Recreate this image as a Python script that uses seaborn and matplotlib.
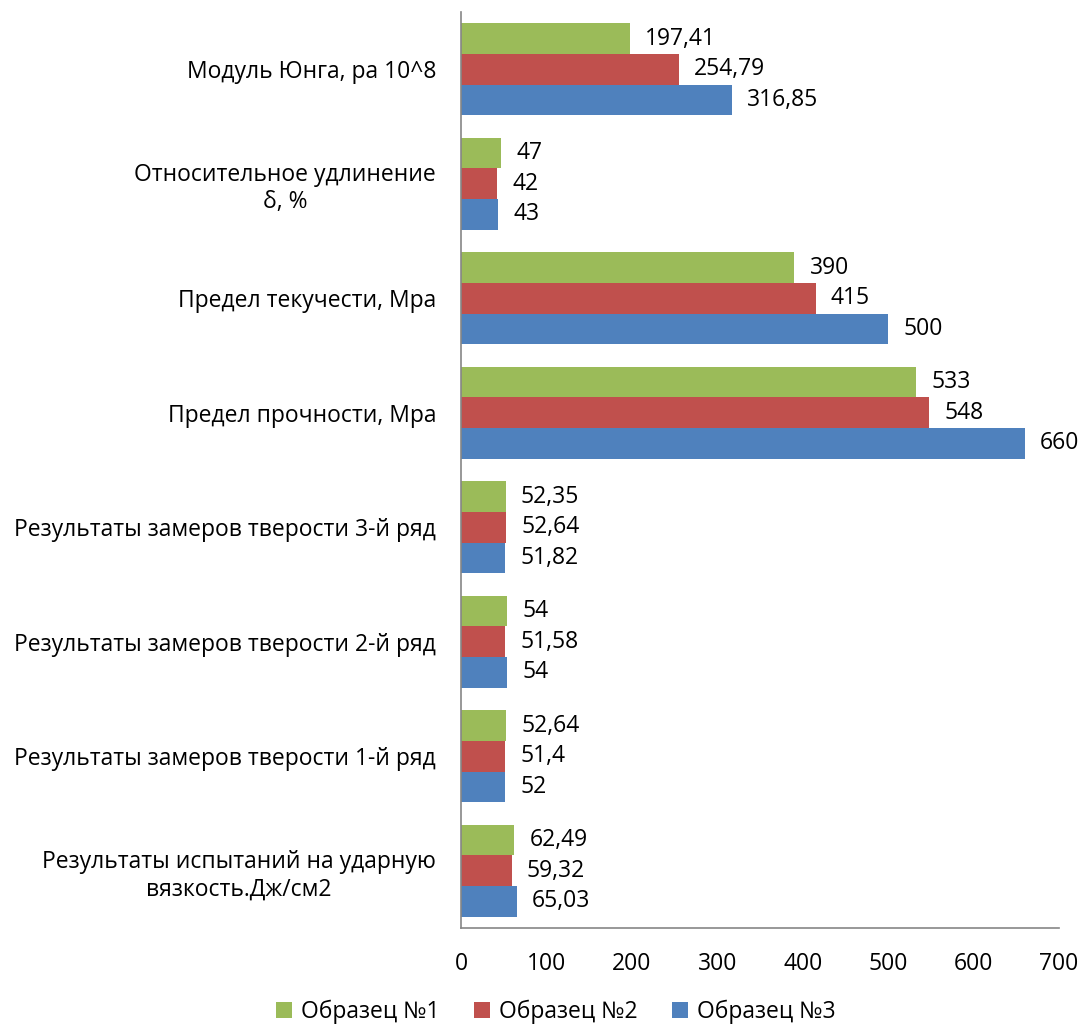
import matplotlib
matplotlib.use("Agg")
import matplotlib.pyplot as plt
import seaborn as sns
import pandas as pd
from matplotlib.patches import Patch

categories = [
    "Модуль Юнга, ра 10^8",
    "Относительное удлинение\nδ, %",
    "Предел текучести, Мра",
    "Предел прочности, Мра",
    "Результаты замеров тверости 3-й ряд",
    "Результаты замеров тверости 2-й ряд",
    "Результаты замеров тверости 1-й ряд",
    "Результаты испытаний на ударную\nвязкость.Дж/см2",
]
series_names = ["Образец №1", "Образец №2", "Образец №3"]
sample1 = [197.41, 47, 390, 533, 52.35, 54, 52.64, 62.49]
sample2 = [254.79, 42, 415, 548, 52.64, 51.58, 51.4, 59.32]
sample3 = [316.85, 43, 500, 660, 51.82, 54, 52, 65.03]
colors = ["#9BBB59", "#C0504D", "#4F81BD"]
x_ticks = [0, 100, 200, 300, 400, 500, 600, 700]

rows = []
for name, vals in zip(series_names, [sample1, sample2, sample3]):
    for c, v in zip(categories, vals):
        rows.append({"cat": c, "val": v, "series": name})
df = pd.DataFrame(rows)

sns.set_theme(style="white")
plt.rcParams["font.family"] = ["Open Sans", "DejaVu Sans"]
plt.rcParams["text.color"] = "black"
plt.rcParams["xtick.color"] = "black"
plt.rcParams["ytick.color"] = "black"
FS = 16.5

fig = plt.figure(figsize=(10.82, 10.29), dpi=100)
ax = fig.add_axes([461 / 1082, 1 - 928 / 1029, (1059 - 461) / 1082, (928 - 12) / 1029])

sns.barplot(data=df, x="val", y="cat", hue="series", order=categories,
            hue_order=series_names, palette=colors, orient="h", width=0.8,
            saturation=1, ax=ax, legend=False, errorbar=None, linewidth=0)

for cont, vals in zip(ax.containers, [sample1, sample2, sample3]):
    labels = [f"{v:g}".replace(".", ",") for v in vals]
    ax.bar_label(cont, labels=labels, padding=11, fontsize=FS, color="black")

ax.set_xlim(0, 700)
ax.set_xticks(x_ticks)
ax.set_xticklabels([str(t) for t in x_ticks], fontsize=FS)
ax.set_xlabel("")
ax.set_ylabel("")
ax.tick_params(axis="x", length=0, pad=17, colors="black")
ax.tick_params(axis="y", length=0, pad=18, labelsize=FS, colors="black")
for lbl in ax.get_yticklabels():
    lbl.set_multialignment("center")

for s in ["top", "right"]:
    ax.spines[s].set_visible(False)
for s in ["left", "bottom"]:
    ax.spines[s].set_color("#868686")
    ax.spines[s].set_linewidth(1.2)

handles = [Patch(facecolor=c, edgecolor="none") for c in colors]
fig.legend(handles, series_names, loc="center", bbox_to_anchor=(556 / 1082, 1 - 1012 / 1029),
           ncol=3, frameon=False, fontsize=FS, handlelength=0.7, handleheight=0.7,
           handletextpad=0.4, columnspacing=1.5, borderpad=0.1)

fig.savefig("out.png", dpi=100, facecolor="white")
